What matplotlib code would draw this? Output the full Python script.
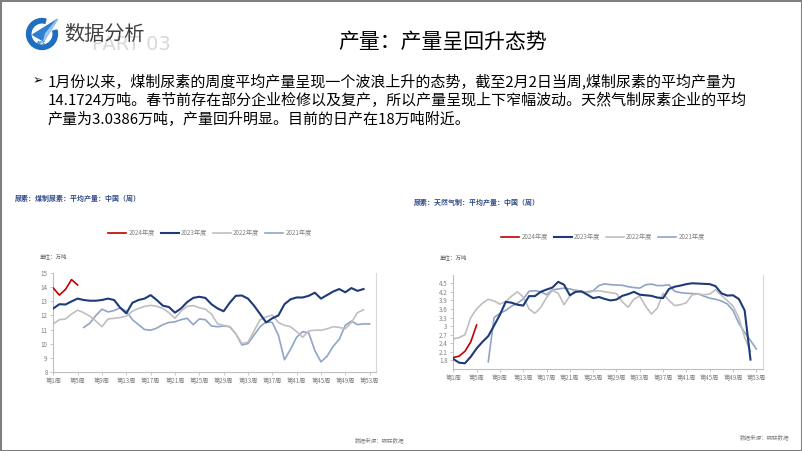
import numpy as np
import matplotlib
matplotlib.use('Agg')
import matplotlib.pyplot as plt
from matplotlib.patches import Rectangle, Wedge, Polygon

plt.rcParams['font.family'] = ['Noto Sans CJK SC', 'DejaVu Sans']

# ---------------- data ----------------
tick_weeks = [1, 5, 9, 13, 17, 21, 25, 29, 33, 37, 41, 45, 49, 53]
tick_labels = ['第1周', '第5周', '第9周', '第13周', '第17周', '第21周', '第25周',
               '第29周', '第33周', '第37周', '第41周', '第45周', '第49周', '第53周']
series_names = ['2024年度', '2023年度', '2022年度', '2021年度']

# coal-based urea, weekly average output (10k t)
coal_2024 = [13.95, 13.45, 13.85, 14.55, 14.17]
coal_2023 = [12.5, 12.8, 12.78, 13.0, 13.2, 13.1, 13.05, 13.05, 13.1, 13.2,
             13.1, 12.55, 12.15, 12.9, 13.1, 13.2, 13.45, 13.1, 12.7, 12.6,
             12.2, 12.5, 12.95, 13.25, 13.33, 13.25, 12.8, 12.5, 12.3, 12.9,
             13.4, 13.42, 13.2, 12.7, 12.1, 11.5, 11.8, 12.0, 12.8, 13.15,
             13.28, 13.28, 13.4, 13.62, 13.2, 13.45, 13.7, 13.88, 13.65, 13.95,
             13.75, 13.88]
coal_2022 = [11.4, 11.7, 11.75, 12.1, 12.38, 12.2, 11.95, 11.6, 11.2, 11.75,
             11.8, 11.85, 11.95, 12.3, 12.5, 12.65, 12.72, 12.65, 12.5, 12.2,
             11.8, 12.3, 12.65, 12.7, 12.55, 12.45, 12.1, 11.4, 11.3, 11.2,
             10.7, 10.0, 10.1, 10.9, 11.7, 11.9, 12.03, 11.5, 11.3, 11.2,
             10.85, 10.45, 10.9, 10.95, 10.95, 11.05, 11.2, 11.15, 11.05, 11.5,
             12.2, 12.4]
coal_2021_start = 6
coal_2021 = [11.15, 11.45, 12.0, 12.45, 12.25,
             12.35, 12.55, 12.3, 11.7, 11.35, 11.0, 10.95, 11.1, 11.35, 11.5,
             11.55, 11.7, 11.8, 11.35, 11.75, 11.7, 11.25, 11.2, 11.25, 11.2,
             10.7, 9.9, 10.0, 10.6, 11.2, 11.55, 11.5, 10.6, 8.85, 9.6,
             10.45, 10.85, 10.75, 9.5, 8.7, 9.1, 9.8, 10.3, 11.3, 11.6,
             11.35, 11.4, 11.4]

# natural-gas-based urea, weekly average output (10k t)
gas_2024 = [1.9, 1.95, 2.12, 2.45, 3.04]
gas_2023 = [1.85, 1.72, 1.7, 1.93, 2.22, 2.45, 2.65, 3.02, 3.4, 3.85,
            3.82, 3.75, 3.72, 4.05, 4.05, 4.2, 4.28, 4.35, 4.55, 4.45,
            4.08, 4.2, 4.22, 4.1, 3.98, 4.02, 3.95, 3.9, 3.93, 4.06,
            4.12, 4.2, 4.1, 4.08, 4.06, 4.0, 3.98, 4.3, 4.38, 4.42,
            4.47, 4.5, 4.49, 4.48, 4.47, 4.4, 4.15, 4.07, 4.08, 3.95,
            3.55, 1.83]
gas_2022 = [2.55, 2.6, 2.7, 3.3, 3.6, 3.8, 3.94, 3.88, 3.77, 3.86,
            4.05, 4.2, 4.02, 3.6, 3.45, 3.65, 4.0, 4.25, 4.15, 3.75,
            4.05, 4.27, 4.2, 4.17, 4.22, 4.24, 4.2, 4.17, 4.14, 3.85,
            3.66, 3.95, 4.05, 3.7, 3.42, 3.63, 4.15, 3.9, 3.72, 3.75,
            3.82, 4.1, 4.12, 4.1, 4.12, 4.27, 4.08, 3.9, 3.7, 3.3,
            2.6, 2.12]
gas_2021_start = 7
gas_2021 = [1.75, 3.3, 3.45, 3.55,
            3.7, 3.8, 3.95, 4.22, 4.24, 4.2, 4.1, 4.27, 4.3, 4.33,
            4.3, 4.25, 4.18, 4.2, 4.24, 4.42, 4.48, 4.45, 4.44, 4.43,
            4.38, 4.35, 4.33, 4.45, 4.47, 4.42, 4.42, 4.45, 4.22, 4.17,
            4.15, 4.14, 4.13, 4.05, 3.98, 3.94, 3.88, 3.78, 3.55, 3.1,
            2.78, 2.5, 2.2]

coal_yticks = [8, 9, 10, 11, 12, 13, 14, 15]
gas_yticks = [1.8, 2.1, 2.4, 2.7, 3.0, 3.3, 3.6, 3.9, 4.2, 4.5]
gas_ytick_labels = ['1.8', '2.1', '2.4', '2.7', '3', '3.3', '3.6', '3.9', '4.2', '4.5']

title_text = '产量：产量呈回升态势'
body_lines = [
    '1月份以来，煤制尿素的周度平均产量呈现一个波浪上升的态势，截至2月2日当周,煤制尿素的平均产量为',
    '14.1724万吨。春节前存在部分企业检修以及复产，所以产量呈现上下窄幅波动。天然气制尿素企业的平均',
    '产量为3.0386万吨，产量回升明显。目前的日产在18万吨附近。',
]

colors = ['#C00000', '#1F3A78', '#BFBFBF', '#8FA5C6']
widths = [1.2, 1.5, 1.2, 1.2]

# ---------------- figure ----------------
W, H = 802, 451
fig = plt.figure(figsize=(W / 100, H / 100), dpi=100)


def fx(px):
    return px / W


def fy(py):
    return 1 - py / H


# slide border
fig.patches.append(Rectangle((0, 0), 1, 1, transform=fig.transFigure, fill=False,
                             edgecolor='#7F7F7F', lw=2.2, zorder=10))

# logo
lax = fig.add_axes([fx(24), fy(51), 36 / W, 34 / H])
lax.set_xlim(-1.1, 1.1)
lax.set_ylim(-1.1, 1.1)
lax.set_aspect('equal')
lax.axis('off')
lax.add_patch(Wedge((0, 0), 1.0, 75, 375, width=0.28, color='#1F6FC0'))
lax.add_patch(Polygon([[-0.6, -0.05], [1.0, 0.95], [0.1, -0.45]], closed=True, color='#2F80D0'))
lax.add_patch(Polygon([[0.1, -0.45], [1.0, 0.95], [0.25, 0.05]], closed=True, color='#9CC6EE'))
lax.text(0, -0.55, 'AVIC', fontsize=2.5, color='#1F6FC0', ha='center', va='center',
         family='DejaVu Sans', weight='bold')

fig.text(fx(92), fy(44), 'PART 03', fontsize=14, color='#D9D9D9', va='center', ha='left',
         family='DejaVu Sans', zorder=1)
fig.text(fx(64), fy(35), '数据分析', fontsize=14.5, color='#404040', va='center', ha='left', zorder=2)
fig.text(fx(443), fy(42), title_text, fontsize=15, color='black', va='center', ha='center')

fig.text(fx(33), fy(81), '➢', fontsize=9, family='DejaVu Sans', va='center', ha='left')
for i, line in enumerate(body_lines):
    fig.text(fx(48), fy(81 + i * 19.5), line, fontsize=10.8, va='center', ha='left', color='black')


def style_axes(ax, xlim, ylim, yticks, ylabels):
    ax.set_xlim(*xlim)
    ax.set_ylim(*ylim)
    ax.set_xticks(tick_weeks)
    ax.set_xticklabels(tick_labels)
    ax.set_yticks(yticks)
    ax.set_yticklabels(ylabels)
    ax.spines['top'].set_visible(False)
    for s in ['left', 'bottom']:
        ax.spines[s].set_color('#BFBFBF')
        ax.spines[s].set_linewidth(0.8)
    ax.spines['right'].set_color('#D9D9D9')
    ax.spines['right'].set_linewidth(0.8)
    ax.tick_params(axis='both', length=2.5, width=0.6, color='#BFBFBF',
                   labelcolor='#808080', labelsize=4.5, pad=1.5)
    ax.patch.set_alpha(0)


def draw_chart(ax, data, legend_center):
    handles = []
    for (start, vals), c, lw, name in zip(data, colors, widths, series_names):
        x = np.arange(start, start + len(vals))
        h, = ax.plot(x, vals, color=c, lw=lw, solid_joinstyle='round', label=name)
        handles.append(h)
    # draw order: older years below
    for h, z in zip(handles, [5, 4, 3, 2]):
        h.set_zorder(z)
    ax.legend(handles=handles, loc='center', bbox_to_anchor=legend_center,
              bbox_transform=fig.transFigure, ncol=4, fontsize=4.5, frameon=False,
              handlelength=2.9, handletextpad=0.35, columnspacing=0.9,
              labelcolor='#808080', borderpad=0)


# ---- chart 1: coal ----
ax1 = fig.add_axes([fx(53.3), fy(371.7), (375.7 - 53.3) / W, (371.7 - 273.3) / H])
draw_chart(ax1, [(1, coal_2024), (1, coal_2023), (1, coal_2022), (coal_2021_start, coal_2021)],
           (fx(210), fy(233)))
style_axes(ax1, (1, 54), (8, 15), coal_yticks, [str(v) for v in coal_yticks])

fig.text(fx(15), fy(198), '尿素：煤制尿素：平均产量：中国（周）', fontsize=5, weight='bold',
         color='#2F4B8A', va='center', ha='left')
fig.text(fx(40), fy(256), '单位：万吨', fontsize=4, color='#595959', va='center', ha='left')
fig.text(fx(380), fy(440), '数据来源：钢联数据', fontsize=4, color='#7F7F7F', va='center', ha='center')

# ---- chart 2: natural gas ----
ax2 = fig.add_axes([fx(453.3), fy(369), (763.3 - 453.3) / W, (369 - 274.7) / H])
draw_chart(ax2, [(1, gas_2024), (1, gas_2023), (1, gas_2022), (gas_2021_start, gas_2021)],
           (fx(603), fy(237)))
style_axes(ax2, (1, 54.2), (1.5, 4.8), gas_yticks, gas_ytick_labels)

fig.text(fx(414), fy(202), '尿素：天然气制：平均产量：中国（周）', fontsize=5, weight='bold',
         color='#2F4B8A', va='center', ha='left')
fig.text(fx(440), fy(257), '单位：万吨', fontsize=4, color='#595959', va='center', ha='left')
fig.text(fx(765), fy(437), '数据来源：钢联数据', fontsize=4, color='#7F7F7F', va='center', ha='center')

fig.savefig('out.png', dpi=100)
